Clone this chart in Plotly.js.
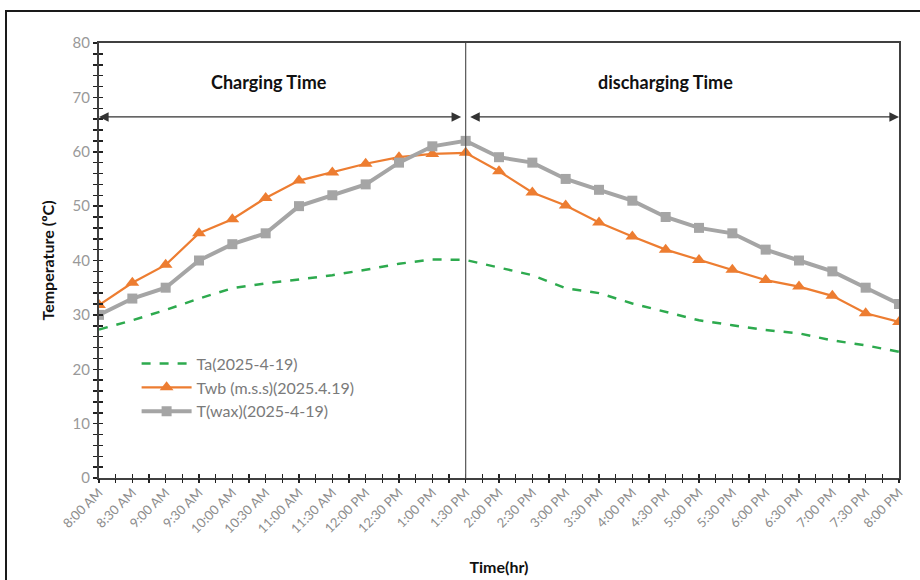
<!DOCTYPE html>
<html>
<head>
<meta charset="utf-8">
<script src="https://cdn.plot.ly/plotly-3.0.1.min.js"></script>
<style>
html,body{margin:0;padding:0;background:#fff;overflow:hidden;}
#wrap{position:relative;width:920px;height:580px;}
#chart{position:absolute;left:0;top:0;width:920px;height:580px;}
#frame{position:absolute;left:5px;top:10px;width:940px;height:600px;border:2px solid #1a1a1a;pointer-events:none;}
</style>
</head>
<body>
<div id="wrap"><div id="chart"></div><div id="frame"></div></div>
<script>
const categories = ['8:00 AM','8:30 AM','9:00 AM','9:30 AM','10:00 AM','10:30 AM','11:00 AM','11:30 AM','12:00 PM','12:30 PM','1:00 PM','1:30 PM','2:00 PM','2:30 PM','3:00 PM','3:30 PM','4:00 PM','4:30 PM','5:00 PM','5:30 PM','6:00 PM','6:30 PM','7:00 PM','7:30 PM','8:00 PM'];
const ta  = [27.3,29.0,30.9,33.0,34.9,35.8,36.5,37.3,38.3,39.4,40.2,40.1,38.7,37.3,34.9,34.0,32.1,30.6,29.0,28.1,27.2,26.6,25.3,24.4,23.2];
const twb = [31.8,35.9,39.2,45.0,47.6,51.5,54.7,56.2,57.8,59.0,59.6,59.8,56.4,52.5,50.1,47.0,44.4,42.0,40.1,38.3,36.4,35.2,33.5,30.3,28.7];
const twax= [30,33,35,40,43,45,50,52,54,58,61,62,59,58,55,53,51,48,46,45,42,40,38,35,32];
const seriesNames = ['Ta(2025-4-19)','Twb (m.s.s)(2025.4.19)','T(wax)(2025-4-19)'];
const dividerCategory = '1:30 PM';
const arrowLevel = 66.4;
const phaseLabels = ['Charging Time','discharging Time'];

const lastIdx = categories.length - 1;
const divIdx = categories.indexOf(dividerCategory);
const idx = categories.map((_, i) => i);

const labelFont = {family: 'Lato, "Open Sans", sans-serif', size: 13, color: '#8c8c8c'};

const traces = [
  {x: categories, y: ta, name: seriesNames[0], type: 'scatter', mode: 'lines',
   line: {color: '#2DAA4E', width: 2.5, dash: 'dash'}},
  {x: categories, y: twb, name: seriesNames[1], type: 'scatter', mode: 'lines+markers',
   line: {color: '#ED7D31', width: 2.2}, marker: {symbol: 'triangle-up', size: 12, color: '#ED7D31'}},
  {x: categories, y: twax, name: seriesNames[2], type: 'scatter', mode: 'lines+markers',
   line: {color: '#A5A5A5', width: 4}, marker: {symbol: 'square', size: 10, color: '#A5A5A5'}},
  // invisible helpers that register the overlay tick axes
  {x: idx, y: ta, xaxis: 'x2', yaxis: 'y2', mode: 'lines', opacity: 0, showlegend: false, hoverinfo: 'skip'},
  {x: idx, y: ta, xaxis: 'x3', yaxis: 'y', mode: 'lines', opacity: 0, showlegend: false, hoverinfo: 'skip'}
];

const layout = {
  width: 920, height: 580,
  margin: {l: 99, r: 21, t: 43, b: 102},
  paper_bgcolor: '#fff', plot_bgcolor: '#fff',
  showlegend: true,
  legend: {x: 0.047, y: 0.302, xanchor: 'left', yanchor: 'top', bgcolor: 'rgba(0,0,0,0)',
           font: {family: 'Lato, "Open Sans", sans-serif', size: 16, color: '#7a7a7a'},
           itemwidth: 50, tracegroupgap: 0},
  xaxis: {type: 'category', range: [0, lastIdx], showgrid: false, zeroline: false,
          showline: true, linecolor: '#404040', linewidth: 2, mirror: true,
          ticks: '', tickangle: -45, tickfont: labelFont,
          title: {text: 'Time(hr)', font: {family: 'Lato, sans-serif', size: 16, color: '#111', weight: 'bold'}, standoff: 27}},
  xaxis2: {overlaying: 'x', anchor: 'y', range: [0, lastIdx], showgrid: false, zeroline: false,
           showticklabels: false, ticks: 'outside', ticklen: 4, tickwidth: 1.5, tickcolor: '#222', dtick: 0.5, tick0: 0},
  xaxis3: {overlaying: 'x', anchor: 'y', range: [0, lastIdx], showgrid: false, zeroline: false,
           showticklabels: false, ticks: 'inside', ticklen: 4, tickwidth: 1.5, tickcolor: '#222', dtick: 0.5, tick0: 0},
  yaxis: {range: [0, 80], dtick: 10, showgrid: false, zeroline: false,
          showline: true, linecolor: '#404040', linewidth: 2, mirror: true,
          ticks: 'outside', ticklen: 4, tickwidth: 1.5, tickcolor: '#222',
          minor: {dtick: 2, ticks: 'outside', ticklen: 4, tickwidth: 1.5, tickcolor: '#222', showgrid: false},
          tickfont: {family: 'Lato, "Open Sans", sans-serif', size: 15, color: '#999'},
          title: {text: 'Temperature (ºC)', font: {family: 'Lato, sans-serif', size: 16, color: '#111', weight: 'bold'}, standoff: 14}},
  yaxis2: {overlaying: 'y', anchor: 'x', side: 'left', range: [0, 80], dtick: 2, showgrid: false, zeroline: false,
           showticklabels: false, ticks: 'inside', ticklen: 4, tickwidth: 1.5, tickcolor: '#222'},
  shapes: [
    {type: 'line', xref: 'x', yref: 'paper', x0: divIdx, x1: divIdx, y0: 0, y1: 1,
     line: {color: '#555', width: 1.2}}
  ],
  annotations: [
    {x: 0, y: arrowLevel, ax: divIdx, ay: arrowLevel, xref: 'x', yref: 'y', axref: 'x', ayref: 'y',
     text: '', showarrow: true, arrowside: 'end+start', arrowhead: 2, arrowsize: 1.6, arrowwidth: 1.2,
     arrowcolor: '#333', standoff: 0, startstandoff: 3},
    {x: lastIdx, y: arrowLevel, ax: divIdx, ay: arrowLevel, xref: 'x', yref: 'y', axref: 'x', ayref: 'y',
     text: '', showarrow: true, arrowside: 'end+start', arrowhead: 2, arrowsize: 1.6, arrowwidth: 1.2,
     arrowcolor: '#333', standoff: 0, startstandoff: 3},
    {x: divIdx / 2 - 0.4, y: 72.8, xref: 'x', yref: 'y', text: '<b>' + phaseLabels[0] + '</b>', showarrow: false,
     font: {family: 'Lato, sans-serif', size: 18, color: '#111'}},
    {x: (divIdx + lastIdx) / 2 - 0.5, y: 72.8, xref: 'x', yref: 'y', text: '<b>' + phaseLabels[1] + '</b>', showarrow: false,
     font: {family: 'Lato, sans-serif', size: 18, color: '#111'}}
  ]
};

Plotly.newPlot('chart', traces, layout, {displayModeBar: false, staticPlot: true});
</script>
</body>
</html>
